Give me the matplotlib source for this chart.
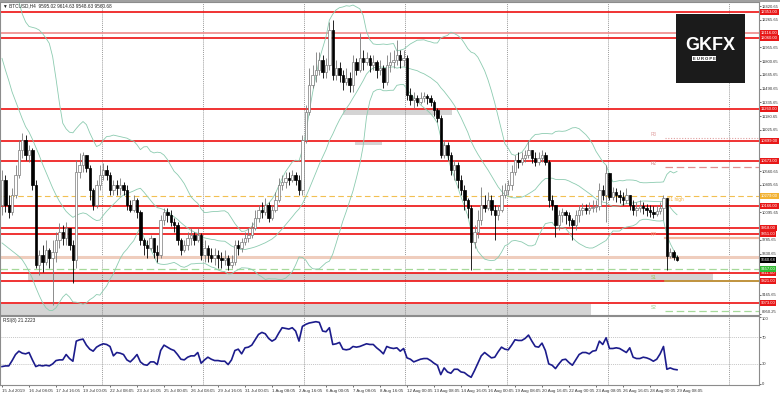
import matplotlib
matplotlib.use("Agg")
import matplotlib.pyplot as plt
import matplotlib.transforms as mtransforms
from matplotlib.patches import Rectangle
import numpy as np
import pandas as pd

W, H = 780, 396

chart_title = "\u25bc BTCUSD,H4  9595.02 9614.63 9548.63 9560.68"
rsi_title = "RSI(8) 21.2223"

# H4 candles, 15 Jul 2019 00:05 -> 29 Aug 2019 08:05 (weekends skipped)
first_open = 10178
close = [
    10460, 10178, 10099, 10290, 10516, 10798, 10910, 10741, 10798, 10403,
    9502, 9614, 9535, 9671, 9580, 9648, 9783, 9873, 9806, 9918,
    9727, 9558, 10550, 10628, 10741, 10595, 10347, 10178, 10403, 10516,
    10572, 10516, 10347, 10403, 10369, 10403, 10347, 10178, 10121, 10234,
    10099, 9783, 9727, 9693, 9806, 9648, 9614, 10009, 10099, 10065,
    9986, 9952, 9783, 9671, 9727, 9806, 9840, 9783, 9840, 9614,
    9693, 9614, 9580, 9614, 9580, 9558, 9580, 9502, 9535, 9727,
    9693, 9761, 9806, 9840, 9918, 10031, 10121, 10099, 10178, 10031,
    10121, 10234, 10403, 10437, 10482, 10460, 10516, 10460, 10347, 10910,
    11226, 11530, 11643, 11699, 11812, 11677, 11755, 12150, 11643, 11722,
    11643, 11564, 11609, 11530, 11789, 11699, 11834, 11789, 11834, 11755,
    11789, 11699, 11722, 11564, 11755, 11789, 11812, 11868, 11812, 11834,
    11417, 11361, 11384, 11338, 11384, 11406, 11384, 11338, 11248, 11158,
    10741, 10854, 10741, 10572, 10628, 10460, 10347, 10234, 10144, 9761,
    9873, 10009, 10178, 10144, 10234, 10121, 10065, 10121, 10290, 10347,
    10403, 10550, 10685, 10662, 10707, 10741, 10798, 10707, 10662, 10707,
    10741, 10662, 10234, 10178, 9952, 10065, 10099, 10065, 10009, 9952,
    10065, 10121, 10144, 10121, 10144, 10155, 10166, 10347, 10290, 10538,
    10268, 10324, 10290, 10268, 10234, 10290, 10178, 10121, 10144, 10166,
    10144, 10121, 10099, 10076, 10110, 10144, 10257, 9603, 9648, 9595,
    9560.68,
]
high = [
    10572, 10516, 10290, 10369, 10628, 10910, 10989, 10967, 10854, 10820,
    10460, 9671, 9727, 9783, 9693, 9783, 9873, 9975, 9952, 9986,
    9918, 9783, 10685, 10764, 10775, 10741, 10628, 10369, 10460, 10628,
    10651, 10628, 10550, 10460, 10460, 10482, 10437, 10403, 10234, 10290,
    10257, 10121, 9806, 9783, 9840, 9783, 9727, 10065, 10144, 10144,
    10121, 10031, 9986, 9806, 9783, 9873, 9918, 9873, 9918, 9862,
    9783, 9727, 9693, 9693, 9671, 9648, 9671, 9614, 9614, 9783,
    9783, 9806, 9873, 9918, 9986, 10121, 10178, 10212, 10257, 10212,
    10178, 10324, 10482, 10516, 10550, 10550, 10572, 10550, 10516, 10967,
    11305, 11722, 11755, 11902, 11902, 11868, 11834, 12240, 12263, 11812,
    11789, 11699, 11722, 11677, 11868, 11834, 12116, 11925, 11902, 11868,
    11868, 11812, 11812, 11755, 11868, 11902, 11925, 12037, 11925, 11925,
    11868, 11496, 11451, 11417, 11451, 11451, 11429, 11417, 11361, 11271,
    11192, 10910, 10888, 10775, 10685, 10662, 10516, 10403, 10257, 10178,
    9952, 10121, 10381, 10290, 10324, 10290, 10178, 10178, 10403, 10426,
    10460, 10628, 10741, 10775, 10775, 10798, 10910, 10798, 10775, 10775,
    10798, 10775, 10685, 10290, 10178, 10121, 10144, 10121, 10099, 10031,
    10121, 10178, 10200, 10189, 10212, 10234, 10234, 10426, 10403, 10628,
    10538, 10381, 10369, 10347, 10324, 10369, 10290, 10234, 10212, 10234,
    10212, 10189, 10178, 10166, 10178, 10212, 10290, 10257, 9693, 9671,
    9614.63,
]
low = [
    10065, 10099, 10031, 10065, 10257, 10482, 10707, 10685, 10662, 10347,
    9468, 9389, 9423, 9502, 9468, 9051, 9535, 9693, 9727, 9727,
    9671, 9299, 9468, 10482, 10550, 10550, 10234, 10121, 10144, 10347,
    10460, 10460, 10290, 10290, 10290, 10290, 10290, 10121, 10099, 10099,
    10031, 9727, 9614, 9580, 9671, 9580, 9535, 9580, 9952, 9986,
    9941, 9873, 9727, 9614, 9648, 9671, 9727, 9727, 9761, 9558,
    9535, 9535, 9535, 9502, 9468, 9468, 9502, 9445, 9468, 9502,
    9614, 9648, 9727, 9761, 9806, 9896, 9986, 10031, 10065, 9986,
    10009, 10099, 10212, 10347, 10369, 10403, 10437, 10403, 10290, 10290,
    10876, 11192, 11496, 11564, 11643, 11609, 11609, 11699, 11586, 11586,
    11564, 11474, 11530, 11451, 11451, 11643, 11677, 11699, 11755, 11677,
    11699, 11609, 11643, 11496, 11530, 11677, 11722, 11755, 11722, 11744,
    11361, 11305, 11271, 11293, 11316, 11338, 11316, 11293, 11181, 11113,
    10707, 10707, 10685, 10516, 10460, 10369, 10290, 10121, 10031, 9445,
    9693, 9806, 9952, 10099, 10121, 10065, 9783, 10009, 10099, 10257,
    10290, 10347, 10516, 10595, 10628, 10662, 10707, 10651, 10617, 10628,
    10662, 10628, 10155, 10121, 9817, 9896, 9986, 9964, 9941, 9783,
    9896, 9986, 10065, 10076, 10076, 10099, 10099, 10121, 10234, 9986,
    10234, 10234, 10212, 10200, 10178, 10200, 10121, 10065, 10054, 10099,
    10076, 10054, 10042, 10031, 10054, 10076, 10009, 9445, 9580, 9558,
    9548.63,
]
rsi = [
    26, 27, 27, 35, 44, 49, 46, 45, 47, 36,
    26, 28, 27, 28, 27, 30, 35, 36, 36, 44,
    38, 34, 64, 66, 67, 58, 52, 49, 55, 58,
    60, 59, 56, 42, 47, 46, 44, 36, 33, 38,
    44, 33, 29, 28, 33, 33, 29, 50, 58, 55,
    52, 50, 44, 37, 36, 40, 42, 42, 47, 31,
    36, 40, 37, 35, 35, 34, 34, 29, 36, 50,
    52, 45, 54, 55, 58, 66, 74, 77, 75, 68,
    64, 67, 76, 84, 83, 82, 84, 79, 64, 86,
    89, 91, 92, 93, 92, 79, 78, 84, 59, 60,
    62, 52, 51, 52, 56, 55, 56, 58, 60, 59,
    59, 54, 50, 45, 56, 54, 53, 54, 49, 53,
    39, 37, 33, 35, 37, 38, 38, 35, 31, 28,
    14, 24, 18, 16, 22, 22, 18, 17, 13, 10,
    20, 31, 42, 47, 43, 39, 40, 48, 55, 52,
    51, 58, 66, 65, 65, 68, 73, 64, 56, 55,
    61, 50, 30, 28, 23, 30, 36, 37, 32, 28,
    36, 44, 47, 47, 45, 49, 50, 64, 59, 69,
    53, 53, 54, 53, 50, 47, 54, 40, 38, 38,
    40, 39, 37, 34, 37, 45, 56, 22, 24, 22,
    21.22,
]
# Bollinger values on the first 19 bars (their window reaches back before 15 Jul)
bb_upper_early = [13300, 13100, 12900, 12750, 12600, 12470, 12330, 12240, 12190, 12180,
                  12170, 12150, 12110, 12060, 12000, 11850, 11600, 11330, 11100]
bb_mid_early = [11830, 11700, 11580, 11450, 11350, 11250, 11150, 11060, 11000, 10920,
                10830, 10740, 10640, 10550, 10460, 10370, 10290, 10220, 10160]
bb_lower_early = [9750, 9720, 9690, 9660, 9630, 9600, 9560, 9500, 9430, 9350,
                  9250, 9160, 9080, 9020, 8990, 8990, 9020, 9080, 9140]

date_labels = [
    "15 Jul 2019", "16 Jul 08:05", "17 Jul 16:05", "19 Jul 00:05", "22 Jul 08:05",
    "23 Jul 16:05", "25 Jul 00:05", "26 Jul 08:05", "29 Jul 16:05", "31 Jul 00:05",
    "1 Aug 08:05", "2 Aug 16:05", "6 Aug 00:05", "7 Aug 08:05", "8 Aug 16:05",
    "12 Aug 00:05", "13 Aug 08:05", "14 Aug 16:05", "16 Aug 00:05", "19 Aug 08:05",
    "20 Aug 16:05", "22 Aug 00:05", "23 Aug 08:05", "26 Aug 16:05", "28 Aug 00:05",
    "29 Aug 08:05",
]
bars_per_label = 8
week_breaks = [29.5, 59.5, 89.5, 119.5, 149.5, 179.5, 215.5]

# horizontal support / resistance lines
red_levels = [12353, 12060, 11260, 10899, 10673, 10166, 9918, 9851, 9411, 9321, 9073]
pink_level = 12116
d1_high = 10279
pale_level = 9592
green_level = 9457
pivot_start = 196.4
pivots = {"R3": 10933, "R2": 10606, "PP": 9806, "S1": 9321, "S2": 8983}
# grey zones: (start bar, end bar, low price, high price)
zones = [
    (7.7, 210.7, 9321, 9411),
    (-1.0, 174.5, 8930, 9062),
    (101.0, 133.3, 11192, 11248),
    (104.6, 112.6, 10854, 10888),
]
price_ticks = [12420.65, 12265.65, 12110.65, 11955.65, 11800.65, 11645.65, 11490.65,
               11335.65, 11180.65, 11025.65, 10870.65, 10715.65, 10560.65, 10405.65,
               10250.65, 10095.65, 9940.65, 9785.65, 9630.65, 9475.65, 9320.65,
               9165.65, 8950.25]

# ------------------------------------------------------------------
close = np.array(close, dtype=float)
high = np.array(high, dtype=float)
low = np.array(low, dtype=float)
opens = np.r_[first_open, close[:-1]]
high = np.maximum(high, np.maximum(opens, close))
low = np.minimum(low, np.minimum(opens, close))
idx = np.arange(len(close))

mid = pd.Series(close).rolling(20).mean()
sd = pd.Series(close).rolling(20).std(ddof=0)
upper, lower = mid + 2 * sd, mid - 2 * sd
n_early = len(bb_mid_early)
upper[:n_early] = bb_upper_early
mid[:n_early] = bb_mid_early
lower[:n_early] = bb_lower_early

plt.rcParams["font.family"] = ["Liberation Sans", "DejaVu Sans"]
fig = plt.figure(figsize=(W / 100, H / 100), dpi=100)


def px_axes(x0, y0, x1, y1):
    return fig.add_axes([x0 / W, 1 - y1 / H, (x1 - x0) / W, (y1 - y0) / H])


ax = px_axes(0, 2, 759, 315)
ax_r = px_axes(0, 316, 759, 385)
xlim = (-0.6, 224.3)
for a in (ax, ax_r):
    a.set_xlim(*xlim)
    for s in a.spines.values():
        s.set_color("#8c8c8c")
        s.set_linewidth(0.8)
    a.yaxis.tick_right()
    a.tick_params(axis="y", labelsize=3.0, length=1.2, width=0.5, pad=0.6, colors="#333333")
    for xb in week_breaks:
        a.axvline(xb, color="#777777", lw=0.5, ls=(0, (1.5, 1.5)), zorder=1)

ax.set_ylim(8938.3, 12465.8)
ax.set_xticks([])

tag_levels = red_levels + [pink_level, d1_high, green_level, close[-1]]
px_per_unit = 313 / (12465.8 - 8938.3)
shown_ticks = [t for t in price_ticks
               if min(abs(t - lv) for lv in tag_levels) * px_per_unit > 4.5]
ax.set_yticks(shown_ticks)
ax.set_yticklabels([f"{v:.2f}" for v in shown_ticks])
for lbl in ax.get_yticklabels():
    if lbl.get_text() == "8950.25":
        lbl.set_va("bottom")

# zones
for x0, x1, p0, p1 in zones:
    ax.add_patch(Rectangle((x0, p0), x1 - x0, p1 - p0, fc="#d4d4d4", ec="none", zorder=0.5))

# full width lines
for lv in red_levels:
    ax.axhline(lv, color="#ee1111", lw=1.2, zorder=2)
ax.axhline(pink_level, color="#f08a8a", lw=1.2, zorder=2)
ax.axhline(d1_high, color="#f2c052", lw=0.8, ls=(0, (5, 3)), zorder=2)
ax.axhline(pale_level, color="#efcdbd", lw=2.2, zorder=1.5)
ax.axhline(green_level, color="#a6d99a", lw=0.9, ls=(0, (6, 3)), zorder=2)

# pivot lines at the right
pv_style = {
    "R3": dict(color="#e0a0a0", ls=(0, (1, 1.5)), lw=0.8),
    "R2": dict(color="#e09090", ls=(0, (6, 3)), lw=0.9),
    "PP": dict(color="#f5b79f", ls="-", lw=1.6),
    "S1": dict(color="#b8a845", ls="-", lw=1.2),
    "S2": dict(color="#a6d99a", ls=(0, (6, 3)), lw=0.9),
}
pv_txt = {"R3": "#e0a0a0", "R2": "#d08080", "PP": "#f0a080", "S1": "#a0c060", "S2": "#90c880"}
for name, lv in pivots.items():
    ax.plot([pivot_start, xlim[1]], [lv, lv], zorder=2.5, **pv_style[name])
    ax.text(pivot_start - 4.2, lv + 8, name, fontsize=3.4, color=pv_txt[name],
            va="bottom", ha="left", zorder=3)
ax.text(pivot_start + 0.6, d1_high - 15, "D1 high", fontsize=3.4, color="#f0b040",
        va="top", ha="left", zorder=3)

# bollinger bands
for band in (upper, mid, lower):
    ax.plot(idx, band, color="#8ccbb0", lw=0.6, zorder=2.2)

# candles
up = close >= opens
body_lo = np.minimum(opens, close)
body_h = np.maximum(np.abs(close - opens), 6)
ax.vlines(idx[up], low[up], high[up], color="#7a7a7a", lw=0.6, zorder=3)
ax.vlines(idx[~up], low[~up], high[~up], color="black", lw=0.6, zorder=3)
ax.bar(idx[up], body_h[up], bottom=body_lo[up], width=0.72, color="white",
       edgecolor="#7a7a7a", linewidth=0.5, zorder=4)
ax.bar(idx[~up], body_h[~up], bottom=body_lo[~up], width=0.72, color="black",
       edgecolor="black", linewidth=0.5, zorder=4)

ax.text(0.004, 0.995, chart_title, transform=ax.transAxes, fontsize=3.4,
        va="top", ha="left", color="#222222", zorder=6)

# right price tags
trans = mtransforms.blended_transform_factory(ax.transAxes, ax.transData)


def tag(v, fc, tc="white"):
    ax.text(1.0025, v, f"{v:.2f}", transform=trans, fontsize=3.0, color=tc, ha="left",
            va="center", zorder=7, clip_on=False,
            bbox=dict(boxstyle="square,pad=0.2", fc=fc, ec="none"))


for lv in red_levels + [pink_level]:
    tag(lv, "#e81818")
tag(d1_high, "#f2b233")
tag(green_level, "#33bb33")
tag(close[-1], "black")

# RSI panel
ax_r.set_ylim(-1.5, 101.5)
ax_r.plot(idx, rsi, color="#1c1c8c", lw=1.2, zorder=3)
for lv in (70, 30):
    ax_r.axhline(lv, color="#b0b0b0", lw=0.5, ls=(0, (1.5, 1.5)), zorder=1)
ax_r.set_yticks([100, 70, 30, 0])
ax_r.set_yticklabels(["100", "70", "30", "0"])
for lbl in ax_r.get_yticklabels():
    if lbl.get_text() == "100":
        lbl.set_va("top")
ax_r.text(0.004, 0.97, rsi_title, transform=ax_r.transAxes, fontsize=3.4,
          va="top", ha="left", color="#222222")
ax_r.set_xticks(np.arange(len(date_labels)) * bars_per_label)
ax_r.set_xticklabels(date_labels, ha="left")
ax_r.tick_params(axis="x", labelsize=3.2, length=1.5, width=0.5, pad=1.5, colors="#333333")

# top bar and logo
fig.add_artist(Rectangle((0, 1 - 2 / H), 1, 2 / H, transform=fig.transFigure,
                         fc="#a0a0a0", ec="none"))
fig.add_artist(Rectangle((676 / W, 1 - 83 / H), 69 / W, 69 / H, transform=fig.transFigure,
                         fc="#1b1b1b", ec="none", zorder=10))
fig.text(710.5 / W, 1 - 46 / H, "GKFX", color="white", fontsize=13, fontweight="bold",
         ha="center", va="center", zorder=11)
fig.text(704 / W, 1 - 58.5 / H, "E U R O P E", color="#1b1b1b", fontsize=3.0,
         fontweight="bold", ha="center", va="center", zorder=11,
         bbox=dict(boxstyle="square,pad=0.15", fc="white", ec="none"))

fig.savefig("out.png", dpi=100)
